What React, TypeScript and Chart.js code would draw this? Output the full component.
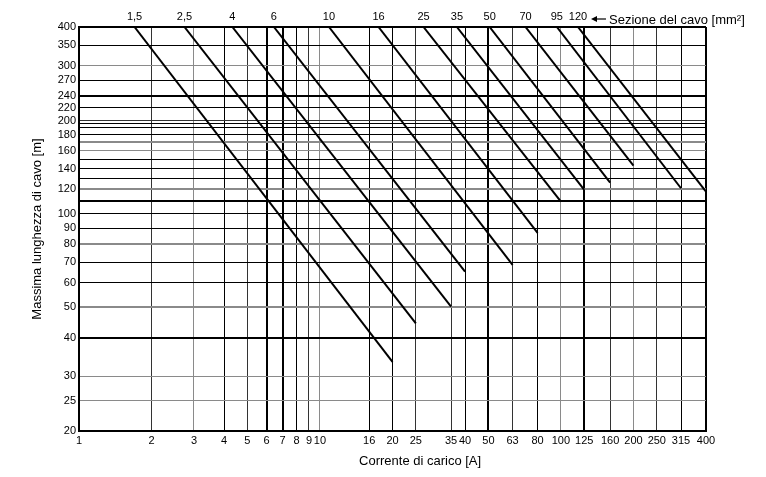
import React, { useEffect, useRef } from 'react';
import { Chart, registerables } from 'chart.js';

Chart.register(...registerables);

// Cable sections (mm²) and their lines: from (start current, 400 m) to (end current, end length)
const SECTIONS = ['1,5', '2,5', '4', '6', '10', '16', '25', '35', '50', '70', '95', '120'];
const START_LENGTH = 400;
const START_CURRENT = [1.7, 2.74, 4.33, 6.44, 10.9, 17.5, 26.9, 37.0, 50.6, 71.3, 96.2, 117.7];
const END_CURRENT = [20, 25, 35, 40, 63, 80, 100, 125, 160, 200, 315, 400];
const END_LENGTH = [33.4, 44.4, 50.3, 65.2, 68.5, 86.9, 109.6, 119.5, 126.1, 143, 121, 118];

// Axis ticks
const X_TICKS = [1, 2, 3, 4, 5, 6, 7, 8, 9, 10, 16, 20, 25, 35, 40, 50, 63, 80, 100, 125, 160, 200, 250, 315, 400];
const Y_TICKS = [20, 25, 30, 40, 50, 60, 70, 80, 90, 100, 110, 120, 130, 140, 150, 160, 170, 180, 190, 195, 200, 220, 240, 270, 300, 350, 400];
const Y_LABELED = [20, 25, 30, 40, 50, 60, 70, 80, 90, 100, 120, 140, 160, 180, 200, 220, 240, 270, 300, 350, 400];

const X_TITLE = 'Corrente di carico [A]';
const Y_TITLE = 'Massima lunghezza di cavo [m]';
const TOP_TITLE = 'Sezione del cavo [mm\u00B2]';

// Grid line styles
const STYLE: Record<string, [string, number]> = {
  K: ['#000', 2],
  k: ['#000', 1],
  d: ['#333', 1],
  g: ['#8a8a8a', 1],
  G: ['#8a8a8a', 2],
};
const X_GRID: Record<number, string> = {
  1: 'K', 2: 'd', 3: 'g', 4: 'k', 5: 'd', 6: 'K', 7: 'K', 8: 'k', 9: 'd', 10: 'g',
  16: 'k', 20: 'k', 25: 'd', 35: 'd', 40: 'k', 50: 'K', 63: 'd', 80: 'k', 100: 'g',
  125: 'K', 160: 'd', 200: 'g', 250: 'd', 315: 'k', 400: 'K',
};
const Y_GRID: Record<number, string> = {
  20: 'K', 25: 'g', 30: 'g', 40: 'K', 50: 'G', 60: 'k', 70: 'k', 80: 'G', 90: 'k', 100: 'k',
  110: 'K', 120: 'G', 130: 'k', 140: 'k', 150: 'k', 160: 'g', 170: 'G', 180: 'k', 190: 'k',
  195: 'k', 200: 'd', 220: 'k', 240: 'K', 270: 'k', 300: 'g', 350: 'k', 400: 'K',
};

const FONT = '"Liberation Sans", Arial, Helvetica, sans-serif';

const annotPlugin = {
  id: 'annot',
  afterDraw(chart: any) {
    const { ctx, chartArea } = chart;
    const x2 = chart.scales.x2;
    ctx.save();
    ctx.fillStyle = '#000';
    ctx.strokeStyle = '#000';
    // arrow pointing left towards the section labels
    const x0 = x2.getPixelForValue(START_CURRENT[START_CURRENT.length - 1]) + 13;
    const ay = chartArea.top - 8;
    ctx.lineWidth = 1.2;
    ctx.beginPath();
    ctx.moveTo(x0 + 4, ay);
    ctx.lineTo(x0 + 15, ay);
    ctx.stroke();
    ctx.beginPath();
    ctx.moveTo(x0, ay);
    ctx.lineTo(x0 + 6, ay - 3);
    ctx.lineTo(x0 + 6, ay + 3);
    ctx.closePath();
    ctx.fill();
    ctx.font = `13px ${FONT}`;
    ctx.textAlign = 'left';
    ctx.textBaseline = 'alphabetic';
    ctx.fillText(TOP_TITLE, x0 + 18, chartArea.top - 3);
    ctx.textAlign = 'center';
    ctx.textBaseline = 'middle';
    ctx.fillText(X_TITLE, chartArea.left + 0.544 * (chartArea.right - chartArea.left), chartArea.bottom + 30);
    ctx.restore();
  },
};

export default function App() {
  const ref = useRef<HTMLCanvasElement | null>(null);

  useEffect(() => {
    document.body.style.margin = '0';
    const canvas = ref.current;
    if (!canvas) return;
    Chart.defaults.font.family = FONT;
    Chart.defaults.color = '#000';

    const datasets = SECTIONS.map((s, i) => ({
      label: s,
      data: [
        { x: START_CURRENT[i], y: START_LENGTH },
        { x: END_CURRENT[i], y: END_LENGTH[i] },
      ],
      showLine: true,
      borderColor: '#000',
      backgroundColor: '#000',
      borderWidth: 2,
      pointRadius: 0,
      pointHoverRadius: 0,
    }));

    const chart = new Chart(canvas, {
      type: 'scatter',
      data: { datasets },
      plugins: [annotPlugin],
      options: {
        animation: false,
        responsive: false,
        maintainAspectRatio: false,
        events: [],
        layout: { padding: { left: 26, right: 60, top: 0, bottom: 0 } },
        plugins: { legend: { display: false }, tooltip: { enabled: false } },
        scales: {
          x: {
            type: 'logarithmic',
            position: 'bottom',
            min: 1,
            max: 400,
            afterBuildTicks: (axis: any) => {
              axis.ticks = X_TICKS.map((v) => ({ value: v }));
            },
            afterFit: (scale: any) => {
              scale.height = 46;
            },
            ticks: {
              autoSkip: false,
              maxRotation: 0,
              minRotation: 0,
              padding: 3,
              font: { size: 11 },
              color: '#000',
              callback: (v: any) => String(v),
            },
            grid: {
              drawTicks: false,
              color: (c: any) => STYLE[X_GRID[c.tick?.value] || 'k'][0],
              lineWidth: (c: any) => STYLE[X_GRID[c.tick?.value] || 'k'][1],
            },
            border: { display: true, color: '#000', width: 2 },
          },
          x2: {
            type: 'logarithmic',
            position: 'top',
            min: 1,
            max: 400,
            afterBuildTicks: (axis: any) => {
              axis.ticks = START_CURRENT.map((v) => ({ value: v }));
            },
            afterFit: (scale: any) => {
              scale.height = 27;
            },
            ticks: {
              autoSkip: false,
              maxRotation: 0,
              minRotation: 0,
              padding: 3,
              font: { size: 11 },
              color: '#000',
              callback: (_v: any, i: number) => SECTIONS[i],
            },
            grid: { display: false, drawTicks: false },
            border: { display: false },
          },
          y: {
            type: 'logarithmic',
            position: 'left',
            min: 20,
            max: 400,
            afterBuildTicks: (axis: any) => {
              axis.ticks = Y_TICKS.map((v) => ({ value: v }));
            },
            afterFit: (scale: any) => {
              scale.width = 53;
            },
            ticks: {
              autoSkip: false,
              padding: 3,
              font: { size: 11 },
              color: '#000',
              callback: (v: any) => (Y_LABELED.includes(Number(v)) ? String(v) : ''),
            },
            grid: {
              drawTicks: false,
              color: (c: any) => STYLE[Y_GRID[c.tick?.value] || 'k'][0],
              lineWidth: (c: any) => STYLE[Y_GRID[c.tick?.value] || 'k'][1],
            },
            border: { display: true, color: '#000', width: 2 },
            title: {
              display: true,
              text: Y_TITLE,
              font: { size: 13 },
              color: '#000',
              padding: { top: 4, bottom: 4 },
            },
          },
        },
      },
    } as any);

    return () => chart.destroy();
  }, []);

  return (
    <div style={{ width: 766, height: 477, background: '#fff' }}>
      <canvas ref={ref} width={766} height={477} style={{ display: 'block' }} />
    </div>
  );
}
